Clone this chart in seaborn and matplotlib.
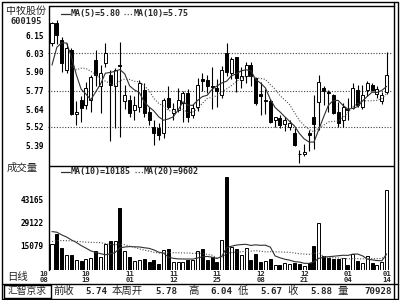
import numpy as np
import pandas as pd
import matplotlib
matplotlib.use("Agg")
import matplotlib.pyplot as plt
import seaborn as sns

# ---------------- data ----------------
opens = [6.10, 6.236, 6.12, 5.913, 6.05, 5.61, 5.705, 5.67, 5.705, 5.98,
         5.80, 5.96, 5.88, 5.80, 5.948, 5.695, 5.706, 5.637, 5.657, 5.775,
         5.625, 5.52, 5.51, 5.477, 5.72, 5.615, 5.637, 5.685, 5.754, 5.60,
         5.657, 5.85, 5.845, 5.80, 5.79, 5.74, 6.03, 5.89, 6.00, 5.845,
         5.87, 5.95, 5.855, 5.745, 5.695, 5.695, 5.57, 5.58, 5.54, 5.52,
         5.48, 5.335, 5.33, 5.48, 5.585, 5.694, 5.79, 5.76, 5.74, 5.625,
         5.567, 5.645, 5.648, 5.775, 5.66, 5.775, 5.81, 5.75, 5.70, 5.763]
highs = [6.247, 6.26, 6.143, 6.10, 6.065, 5.70, 5.73, 5.83, 5.88, 6.05,
         5.95, 6.10, 5.91, 5.925, 6.106, 5.81, 5.74, 5.73, 5.845, 5.82,
         5.66, 5.567, 5.545, 5.72, 5.80, 5.685, 5.79, 5.77, 5.78, 5.68,
         5.86, 5.89, 5.88, 5.93, 5.85, 5.94, 6.10, 6.00, 6.005, 5.93,
         5.97, 5.97, 5.86, 5.83, 5.78, 5.71, 5.59, 5.60, 5.59, 5.57,
         5.51, 5.36, 5.40, 5.50, 5.74, 5.88, 5.80, 5.775, 5.75, 5.69,
         5.685, 5.72, 5.82, 5.81, 5.81, 5.84, 5.82, 5.80, 5.76, 6.04]
lows = [6.08, 6.09, 5.90, 5.89, 5.60, 5.53, 5.555, 5.64, 5.625, 5.80,
        5.615, 5.93, 5.42, 5.51, 5.45, 5.64, 5.59, 5.57, 5.62, 5.59,
        5.53, 5.395, 5.43, 5.44, 5.64, 5.57, 5.625, 5.55, 5.55, 5.58,
        5.63, 5.77, 5.755, 5.64, 5.66, 5.72, 5.87, 5.85, 5.76, 5.79,
        5.82, 5.80, 5.67, 5.60, 5.61, 5.545, 5.52, 5.51, 5.49, 5.50,
        5.385, 5.27, 5.32, 5.35, 5.37, 5.50, 5.67, 5.62, 5.61, 5.52,
        5.52, 5.57, 5.64, 5.66, 5.64, 5.73, 5.77, 5.72, 5.68, 5.75]
closes = [6.238, 6.155, 5.96, 6.063, 5.61, 5.62, 5.65, 5.787, 5.867, 5.88,
          5.89, 6.03, 5.81, 5.91, 5.94, 5.74, 5.614, 5.67, 5.823, 5.614,
          5.567, 5.475, 5.465, 5.706, 5.66, 5.64, 5.706, 5.754, 5.59, 5.65,
          5.81, 5.84, 5.80, 5.795, 5.765, 5.915, 5.90, 5.99, 5.86, 5.87,
          5.95, 5.87, 5.685, 5.735, 5.705, 5.556, 5.585, 5.535, 5.565, 5.545,
          5.395, 5.33, 5.345, 5.46, 5.54, 5.832, 5.765, 5.755, 5.615, 5.545,
          5.66, 5.633, 5.787, 5.67, 5.74, 5.823, 5.775, 5.78, 5.74, 5.88]
volumes = [15900, 22060, 13460, 9340, 9340, 6270, 5660, 6880, 7290, 11800,
           8300, 15900, 17950, 17950, 38040, 11800, 8300, 5660, 6270, 6880,
           4630, 6270, 3620, 12400, 13050, 4830, 4830, 4830, 6270, 6270,
           11800, 13050, 6270, 7700, 4830, 18560, 57470, 14460, 13050, 9340,
           13460, 6270, 9750, 4830, 5660, 6880, 2800, 3210, 4230, 3620,
           4230, 3620, 2180, 4230, 15080, 28800, 8920, 7290, 6470, 6880,
           7290, 2800, 9750, 5250, 4030, 8500, 4030, 3210, 4830, 49300]
# sessions before the visible window (only feed the moving averages)
prior_closes = [5.907, 5.54, 5.807, 6.07, 6.08]
prior_volumes = [11000, 12000, 10500, 11500, 12000, 11000, 10800, 11600, 12200, 10800,
                 26000, 30000, 22000, 28000, 21000, 25000, 23000, 24000, 21700]

price_ticks = [6.15, 6.03, 5.90, 5.77, 5.64, 5.52, 5.39]
price_tick_labels = ["6.15", "6.03", "5.90", "5.77", "5.64", "5.52", "5.39"]
price_grid = [6.03, 5.77, 5.52]
vol_ticks = [43165, 29122, 15079]
vol_tick_labels = ["43165", "29122", "15079"]
date_pos = [-1.65, 7, 16, 25, 34, 43, 52, 61, 69]
date_months = ["10", "10", "11", "11", "11", "12", "12", "01", "01"]
date_days = ["08", "19", "01", "12", "25", "08", "21", "04", "14"]
stock_name = "中牧股份"
stock_code = "600195"
price_legend = ["MA(5)=5.80", "MA(10)=5.75"]
vol_legend = ["MA(10)=10185", "MA(20)=9602"]
footer_words = ["前收", "本周开", "高", "低", "收", "量"]
footer_values = ["5.74", "5.78", "6.04", "5.67", "5.88", "70928"]

# ---------------- style ----------------
sns.set_theme(style="white")
plt.rcParams['font.family'] = ['DejaVu Sans Mono', 'Noto Sans CJK SC']
MONO = ['DejaVu Sans Mono']
CJK = ['Noto Sans CJK SC', 'DejaVu Sans']
INK = 'black'
LINE1 = '#303030'
LINE2 = '#505050'
DOT = (0, (1, 1.5))

n = len(closes)
x = np.arange(n)
o = np.array(opens); c = np.array(closes)
h = np.array(highs); l = np.array(lows)
v = np.array(volumes)
up = c >= o

allc = pd.Series(prior_closes + closes)
ma5 = allc.rolling(5).mean().iloc[len(prior_closes):].to_numpy()
ma10 = allc.rolling(10).mean().iloc[len(prior_closes):].to_numpy()
allv = pd.Series(prior_volumes + volumes, dtype=float)
vma10 = allv.rolling(10).mean().iloc[len(prior_volumes):].to_numpy()
vma20 = allv.rolling(20).mean().iloc[len(prior_volumes):].to_numpy()

fig = plt.figure(figsize=(4, 3), dpi=100)
fig.patch.set_facecolor('white')

XL = (-0.825, 70.3)

# ---------------- price panel ----------------
axp = fig.add_axes([48/400, 1 - 165/300, 345/400, 160/300])
axp.set_xlim(*XL)
axp.set_ylim(5.256, 6.362)
axp.hlines(price_grid, XL[0], XL[1], colors='#404040', linestyles=DOT, lw=0.8, zorder=1)
axp.vlines(x, l, h, colors=INK, lw=0.8, zorder=2)
body_h = np.maximum(np.abs(c - o), 0.004)
axp.bar(x, body_h, bottom=np.minimum(o, c), width=0.62,
        color=np.where(up, 'white', 'black'), edgecolor=INK, linewidth=0.7, zorder=3)
mask5 = ~np.isnan(ma5)
mask10 = ~np.isnan(ma10)
sns.lineplot(x=x[mask5], y=ma5[mask5], ax=axp, color=LINE1, lw=0.8, zorder=4)
sns.lineplot(x=x[mask10], y=ma10[mask10], ax=axp, color=LINE2, lw=0.8, linestyle=DOT, zorder=4)
axp.set_yticks(price_ticks)
axp.set_yticklabels(price_tick_labels, fontfamily=MONO, fontweight='bold', fontsize=5.6)
axp.set_xticks([])
axp.tick_params(axis='y', length=0, pad=3, colors=INK)
axp.set_xlabel(""); axp.set_ylabel("")
for s in axp.spines.values():
    s.set_visible(False)

# ---------------- volume panel ----------------
axv = fig.add_axes([48/400, 1 - 270/300, 345/400, 105/300])
axv.set_xlim(*XL)
axv.set_ylim(0, 64660)
axv.bar(x, v, width=0.62, color=np.where(up, 'white', 'black'),
        edgecolor=INK, linewidth=0.7, zorder=3)
sns.lineplot(x=x, y=vma10, ax=axv, color=LINE1, lw=0.8, zorder=4)
sns.lineplot(x=x, y=vma20, ax=axv, color=LINE2, lw=0.8, linestyle=DOT, zorder=4)
axv.set_yticks(vol_ticks)
axv.set_yticklabels(vol_tick_labels, fontfamily=MONO, fontweight='bold', fontsize=5.6)
axv.set_xticks([])
axv.tick_params(axis='y', length=0, pad=3, colors=INK)
axv.set_xlabel(""); axv.set_ylabel("")
for s in axv.spines.values():
    s.set_visible(False)
# date labels: month row and day row just below the bars
for px, mo, dy in zip(date_pos, date_months, date_days):
    axv.annotate(mo, xy=(px, 0), xycoords=('data', 'axes fraction'),
                 xytext=(0, -1), textcoords='offset pixels', ha='center', va='top',
                 fontsize=5.2, fontfamily=MONO, fontweight='bold', annotation_clip=False)
    axv.annotate(dy, xy=(px, 0), xycoords=('data', 'axes fraction'),
                 xytext=(0, -7), textcoords='offset pixels', ha='center', va='top',
                 fontsize=5.2, fontfamily=MONO, fontweight='bold', annotation_clip=False)

# ---------------- frame & texts (pixel overlay) ----------------
ov = fig.add_axes([0, 0, 1, 1])
ov.set_xlim(0, 400); ov.set_ylim(300, 0)
ov.axis('off')
ov.patch.set_alpha(0)
lw = 1.0
# outer frame
ov.plot([1.5, 397.5, 397.5, 1.5, 1.5], [1.5, 1.5, 298.5, 298.5, 1.5], color=INK, lw=lw)
ov.plot([393.5, 393.5], [1.5, 298.5], color=INK, lw=lw)
# chart boxes
ov.plot([48.5, 393.5], [5.5, 5.5], color=INK, lw=lw)
ov.plot([48.5, 48.5], [5.5, 270], color=INK, lw=lw)
ov.plot([48.5, 393.5], [165.5, 165.5], color=INK, lw=lw)
# footer
ov.plot([1.5, 397.5], [283.5, 283.5], color=INK, lw=lw)
ov.plot([3.5, 50.5, 50.5, 3.5, 3.5], [284.5, 284.5, 297.5, 297.5, 284.5], color=INK, lw=lw)
ov.text(27, 291, "汇智京求", ha='center', va='center', fontsize=7.0, fontfamily=CJK)
word_x = [53, 112, 188, 238, 287, 337]
val_x = [107, 177, 232, 282, 332, 392]
for wx, w in zip(word_x, footer_words):
    ov.text(wx, 291, w, ha='left', va='center', fontsize=7.5, fontfamily=CJK)
for vx, val in zip(val_x, footer_values):
    ov.text(vx, 291.5, val, ha='right', va='center', fontsize=6.6, fontfamily=MONO, fontweight='bold')

# left titles
ov.text(26, 11, stock_name, ha='center', va='center', fontsize=7.2, fontfamily=CJK)
ov.text(26, 22, stock_code, ha='center', va='center', fontsize=6.2, fontfamily=MONO, fontweight='bold')
ov.text(22, 168, "成交量", ha='center', va='center', fontsize=7.5, fontfamily=CJK)
ov.text(18, 277, "日线", ha='center', va='center', fontsize=7.5, fontfamily=CJK)

# legends
ov.plot([61, 70], [13.5, 13.5], color=LINE1, lw=0.9)
ov.text(70.5, 13.5, price_legend[0], ha='left', va='center', fontsize=6, fontfamily=MONO, fontweight='bold')
ov.plot([124, 133], [13.5, 13.5], color=LINE2, lw=0.9, linestyle=DOT)
ov.text(134, 13.5, price_legend[1], ha='left', va='center', fontsize=6, fontfamily=MONO, fontweight='bold')
ov.plot([61, 70], [171.5, 171.5], color=LINE1, lw=0.9)
ov.text(70.5, 171.5, vol_legend[0], ha='left', va='center', fontsize=6, fontfamily=MONO, fontweight='bold')
ov.plot([135, 143], [171.5, 171.5], color=LINE2, lw=0.9, linestyle=DOT)
ov.text(144, 171.5, vol_legend[1], ha='left', va='center', fontsize=6, fontfamily=MONO, fontweight='bold')

fig.savefig("out.png", dpi=100)
